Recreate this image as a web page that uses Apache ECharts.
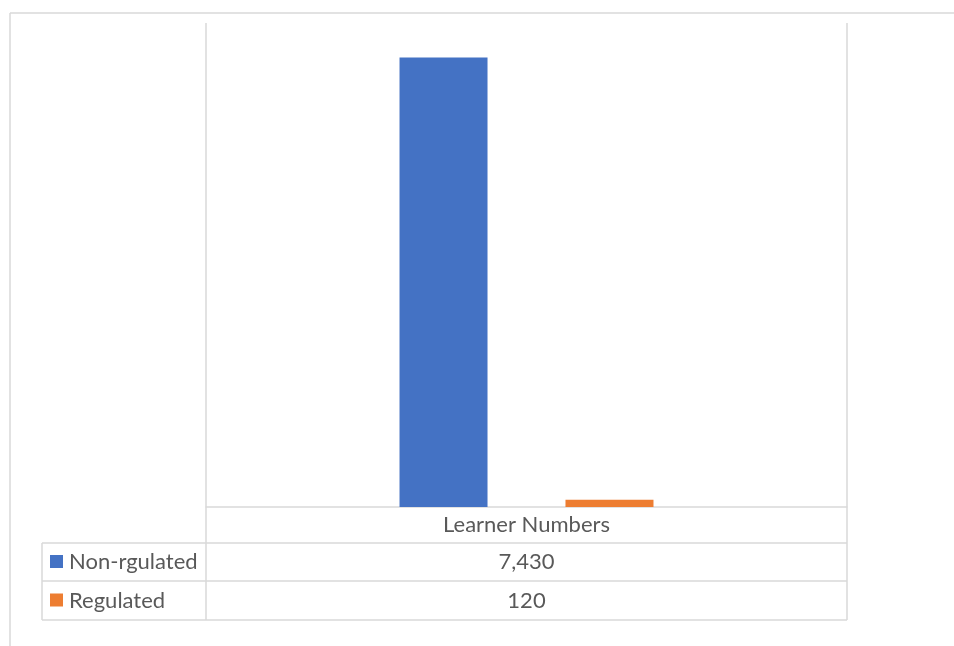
<!DOCTYPE html>
<html>
<head>
<meta charset="utf-8">
<script src="https://cdn.jsdelivr.net/npm/echarts@6/dist/echarts.min.js"></script>
<style>
html,body{margin:0;padding:0;background:#fff;}
#chart{width:954px;height:646px;}
</style>
</head>
<body>
<div id="chart"></div>
<script>
const categories = ['Learner Numbers'];
const seriesNames = ['Non-rgulated', 'Regulated'];
const nonRegulated = [7430];
const regulated = [120];
const colors = ['#4472C4', '#ED7D31'];

const chart = echarts.init(document.getElementById('chart'), null, {renderer: 'canvas'});
const lineStyle = {stroke: '#d9d9d9', lineWidth: 1.5};
const font = 'Lato, "Open Sans", sans-serif';
const txtColor = '#595959';
const fs = 22;

function hline(x1, x2, y) {
  return {type: 'line', shape: {x1: x1, y1: y, x2: x2, y2: y}, style: lineStyle, silent: true};
}
function vline(x, y1, y2) {
  return {type: 'line', shape: {x1: x, y1: y1, x2: x, y2: y2}, style: lineStyle, silent: true};
}

const L = 206, R = 847, T = 23, B = 507;
const rows = [B, 543, 581, 620];
const tabLeft = 42;
const allSeries = [nonRegulated, regulated];

const graphics = [
  hline(10, 954, 13),
  vline(10, 13, 646),
  vline(L, T, rows[3]),
  vline(R, T, rows[3]),
  hline(tabLeft, R, rows[1]),
  hline(tabLeft, R, rows[2]),
  hline(tabLeft, R, rows[3]),
  vline(tabLeft, rows[1], rows[3]),
  {type: 'text', style: {text: categories[0], x: (L + R) / 2, y: (rows[0] + rows[1]) / 2, align: 'center', verticalAlign: 'middle', font: fs + 'px ' + font, fill: txtColor}}
];
seriesNames.forEach(function (name, i) {
  const yc = (rows[i + 1] + rows[i + 2]) / 2;
  graphics.push({type: 'rect', shape: {x: 50, y: yc - 7, width: 13, height: 13}, style: {fill: colors[i]}});
  graphics.push({type: 'text', style: {text: name, x: 69, y: yc, align: 'left', verticalAlign: 'middle', font: fs + 'px ' + font, fill: txtColor}});
  graphics.push({type: 'text', style: {text: allSeries[i][0].toLocaleString('en-US'), x: (L + R) / 2, y: yc, align: 'center', verticalAlign: 'middle', font: fs + 'px ' + font, fill: txtColor}});
});

chart.setOption({
  animation: false,
  grid: {left: L, right: 954 - R, top: T, bottom: 646 - B},
  xAxis: {
    type: 'category',
    data: categories,
    axisLine: {show: true, lineStyle: {color: '#d9d9d9', width: 1.5}},
    axisTick: {show: false},
    axisLabel: {show: false}
  },
  yAxis: {
    type: 'value', min: 0, max: 8000, show: false,
    splitLine: {show: false}
  },
  series: [
    {name: seriesNames[0], type: 'bar', data: nonRegulated, barWidth: 88, barGap: '88.6%', itemStyle: {color: colors[0]}},
    {name: seriesNames[1], type: 'bar', data: regulated, barWidth: 88, barGap: '88.6%', itemStyle: {color: colors[1]}}
  ],
  graphic: graphics
});
</script>
</body>
</html>
